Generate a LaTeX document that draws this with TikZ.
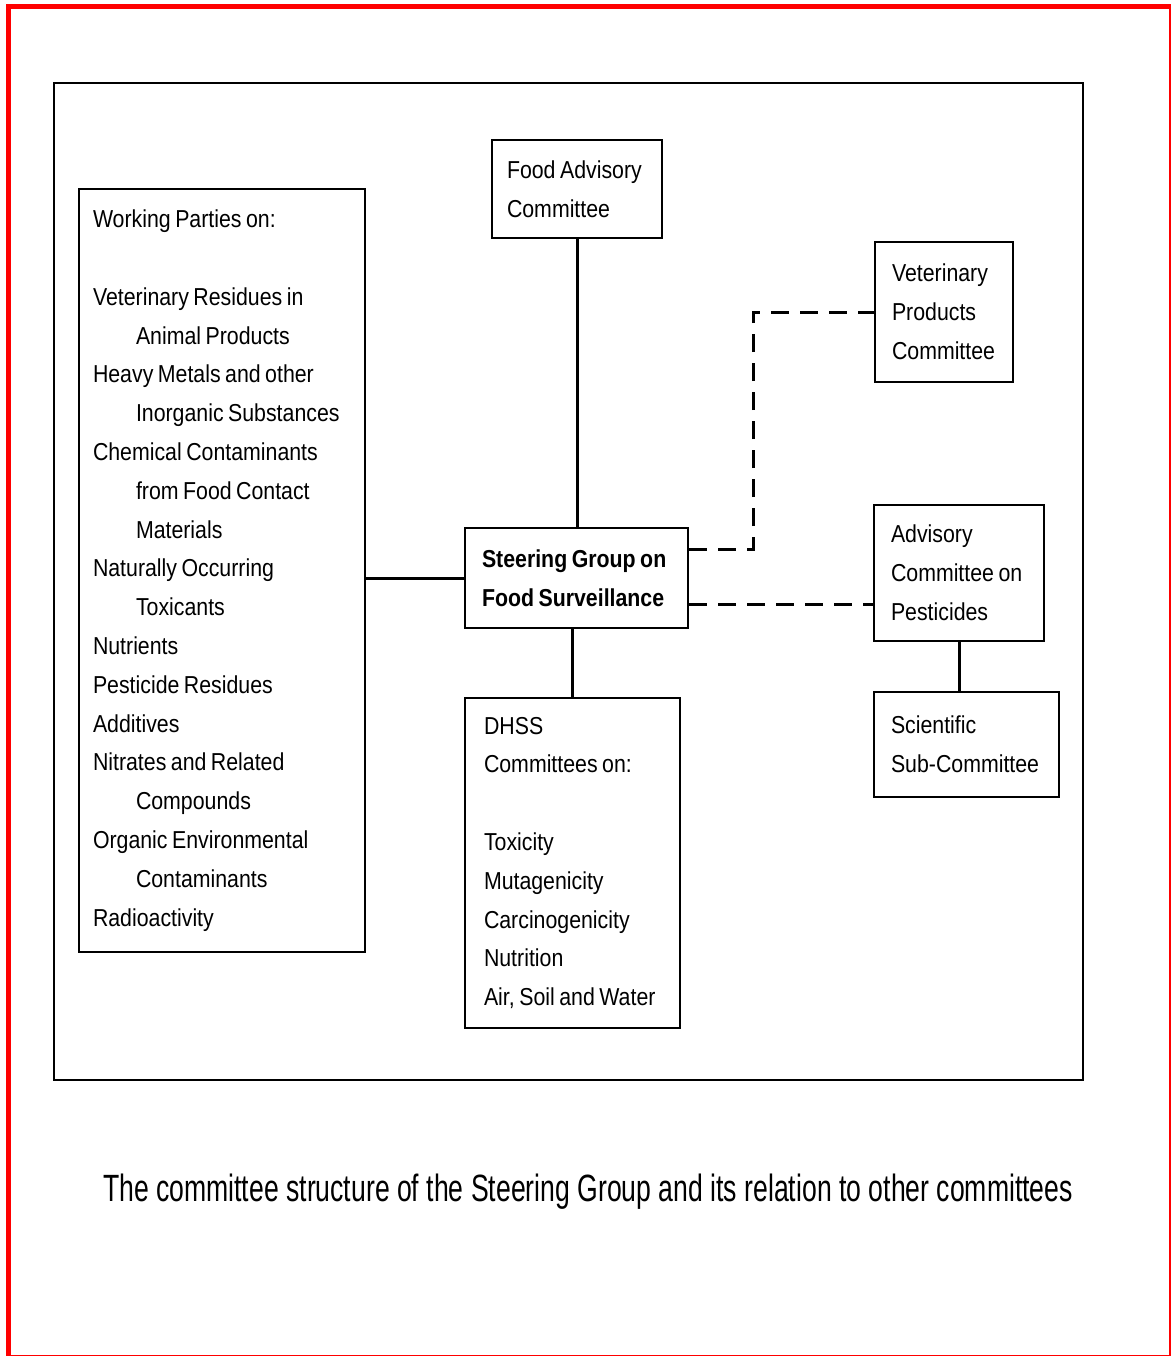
\documentclass[tikz,border=0pt]{standalone}
\usepackage{fontspec}
\newfontfamily\boxfont[FakeStretch=0.87]{Liberation Sans}
\newfontfamily\capfont[FakeStretch=0.7]{Liberation Sans}
\hyphenpenalty=10000
\exhyphenpenalty=10000

\begin{document}
\begin{tikzpicture}[
  x=1pt, y=-1pt,
  font=\boxfont\fontsize{24.5}{38.8}\selectfont,
  box/.style={rectangle, draw=black, line width=2.2pt, inner ysep=0pt,
              inner xsep=16pt, align=left,
              execute at begin node={\spaceskip=4.5pt plus 3pt minus 1pt}},
  steerbox/.style={box, font=\boxfont\bfseries\fontsize{24.5}{38.8}\selectfont},
  link/.style={draw=black, line width=3pt},
  dlink/.style={link, dash pattern=on 18pt off 11pt}
]
\useasboundingbox (0,0) rectangle (1170,1356);
% page frame
\draw[red, line width=5pt] (8.5,6.5) rectangle (1171.5,1357.5);
% outer frame
\draw[line width=2.4pt] (54,83) rectangle (1083,1080);

% working parties
\node[box, inner xsep=14pt, text width=258pt, minimum height=763pt] (work) at (222,570.5)
  {Working Parties on:\\[38.8pt]
   Veterinary Residues in\\
   \hspace*{43pt}Animal Products\\
   Heavy Metals and other\\
   \hspace*{43pt}Inorganic Substances\\
   Chemical Contaminants\\
   \hspace*{43pt}from Food Contact\\
   \hspace*{43pt}Materials\\
   Naturally Occurring\\
   \hspace*{43pt}Toxicants\\
   Nutrients\\
   Pesticide Residues\\
   Additives\\
   Nitrates and Related\\
   \hspace*{43pt}Compounds\\
   Organic Environmental\\
   \hspace*{43pt}Contaminants\\
   Radioactivity};

% centre column
\node[box, inner xsep=15pt, text width=140pt, minimum height=98pt] (food) at (577,189)
  {Food Advisory\\Committee};
\node[steerbox, inner xsep=17pt, text width=189pt, minimum height=100pt] (steer) at (576.5,578)
  {Steering Group on\\Food Surveillance};
\node[box, inner xsep=19pt, text width=177pt, minimum height=330pt] (dhss) at (572.5,863)
  {DHSS\\Committees on:\\[38.8pt]
   Toxicity\\
   Mutagenicity\\
   Carcinogenicity\\
   Nutrition\\
   Air, Soil and Water};

% right column
\node[box, inner xsep=17pt, text width=104pt, minimum height=140pt] (vet) at (944,312)
  {Veterinary\\Products\\Committee};
\node[box, inner xsep=17pt, text width=136pt, minimum height=136pt] (pest) at (959,573)
  {Advisory\\Committee on\\Pesticides};
\node[box, inner xsep=17pt, text width=151pt, minimum height=105pt] (sci) at (966.5,744.5)
  {Scientific\\Sub-Committee};

% links
\draw[link] (food.south) -- (food.south |- steer.north);
\draw[link] (dhss.north) -- (dhss.north |- steer.south);
\draw[link] (steer.west) -- (steer.west -| work.east);
\draw[link] (pest.south) -- (pest.south |- sci.north);
\draw[dlink] ([yshift=29pt]steer.east) -- ++(64,0) |- (vet.west);
\draw[dlink] ([yshift=-26pt]steer.east) -- ([yshift=-26pt]steer.east -| pest.west);

% caption
\node[font=\capfont\fontsize{38}{44}\selectfont] (cap) at (588,1192)
  {The committee structure of the Steering Group and its relation to other committees};
\end{tikzpicture}
\end{document}
